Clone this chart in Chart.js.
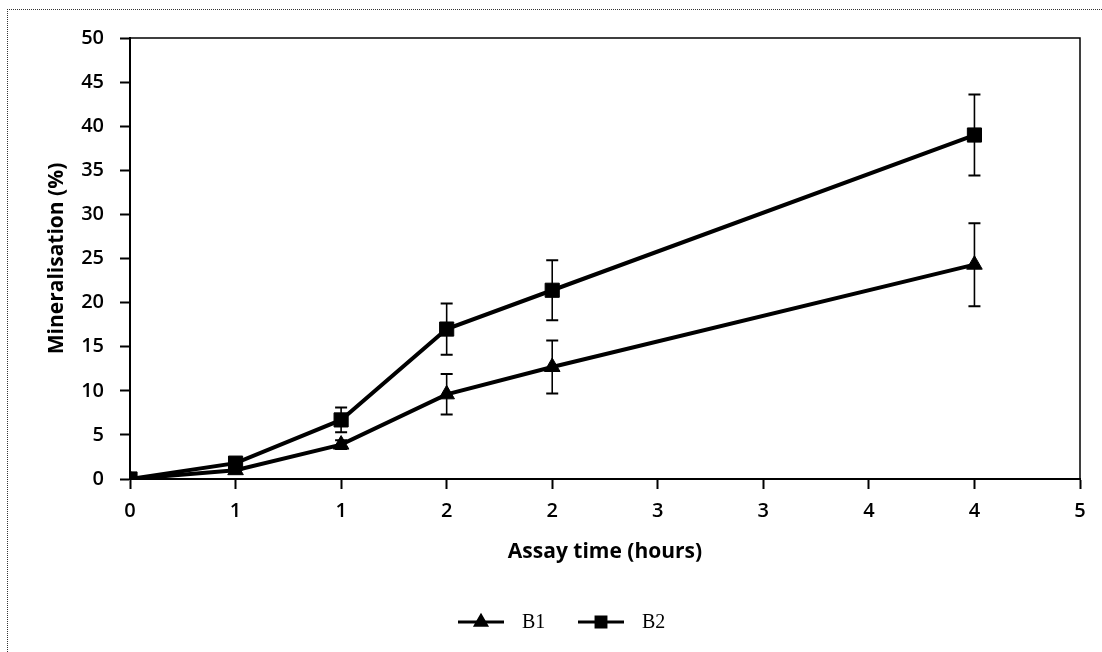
<!DOCTYPE html>
<html>
<head>
<meta charset="utf-8">
<script src="https://cdn.jsdelivr.net/npm/chart.js@4.4.1/dist/chart.umd.min.js"></script>
<style>
  html, body { margin: 0; padding: 0; background: #fff; }
  #wrap { position: relative; width: 1102px; height: 652px; overflow: hidden; }
  #frame { position: absolute; left: 7px; top: 9px; width: 1200px; height: 800px;
           border-left: 1px dotted #333; border-top: 1px dotted #333; }
  canvas { position: absolute; left: 0; top: 0; }
</style>
</head>
<body>
<div id="wrap">
  <div id="frame"></div>
  <canvas id="chart" width="1102" height="652"></canvas>
</div>
<script>
// ─── DATA ─────────────────────────────────────────────────
const hours = [0, 0.5, 1, 1.5, 2, 4];
const b1 = [0, 1.0, 3.9, 9.6, 12.7, 24.3];
const b1Err = [0, 0.3, 0.5, 2.3, 3.0, 4.7];
const b2 = [0, 1.8, 6.7, 17.0, 21.4, 39.0];
const b2Err = [0, 0.3, 1.4, 2.9, 3.4, 4.6];
const xTickLabels = ['0', '1', '1', '2', '2', '3', '3', '4', '4', '5'];
const seriesNames = ['B1', 'B2'];

const tickFont = { family: 'Open Sans', size: 20, weight: '600' };
const titleFont = { family: 'Open Sans', size: 21, weight: 'bold' };

const toPoints = (vals, errs) => vals.map((v, i) => ({ x: hours[i], y: v, err: errs[i] }));

// error bars + box + legend
const extras = {
    id: 'extras',
    beforeDatasetsDraw(chart) {
        const { ctx, scales: { x, y } } = chart;
        ctx.save();
        ctx.strokeStyle = '#000';
        chart.data.datasets.forEach(ds => {
            ds.data.forEach(p => {
                if (!p.err) return;
                const px = x.getPixelForValue(p.x);
                const top = y.getPixelForValue(p.y + p.err);
                const bot = y.getPixelForValue(p.y - p.err);
                ctx.lineWidth = 1.6;
                ctx.beginPath();
                ctx.moveTo(px, top); ctx.lineTo(px, bot);
                ctx.stroke();
                ctx.lineWidth = 2;
                ctx.beginPath();
                ctx.moveTo(px - 6, top); ctx.lineTo(px + 6, top);
                ctx.moveTo(px - 6, bot); ctx.lineTo(px + 6, bot);
                ctx.stroke();
            });
        });
        ctx.restore();
    },
    afterDraw(chart) {
        const { ctx, chartArea: a } = chart;
        ctx.save();
        ctx.strokeStyle = '#000';
        ctx.lineWidth = 1.5;
        ctx.beginPath();
        ctx.moveTo(a.left, a.top); ctx.lineTo(a.right, a.top); ctx.lineTo(a.right, a.bottom);
        ctx.stroke();

        // legend
        const items = [{ lx: 458, tx: 522 }, { lx: 578, tx: 642 }];
        const ly = 622;
        ctx.font = '20px "Liberation Serif"';
        ctx.textBaseline = 'middle';
        ctx.fillStyle = '#000';
        chart.data.datasets.forEach((ds, i) => {
            const it = items[i];
            ctx.lineWidth = 3;
            ctx.beginPath();
            ctx.moveTo(it.lx, ly); ctx.lineTo(it.lx + 46, ly);
            ctx.stroke();
            Chart.helpers.drawPoint(ctx, { pointStyle: ds.pointStyle, radius: ds.pointRadius * 0.7, borderWidth: 1 }, it.lx + 23, ly);
            ctx.fillText(seriesNames[i], it.tx, ly + 1);
        });
        ctx.restore();
    }
};

new Chart(document.getElementById('chart'), {
    type: 'line',
    data: {
        datasets: [
            { label: seriesNames[0], data: toPoints(b1, b1Err), borderColor: '#000', backgroundColor: '#000',
              borderWidth: 4, pointStyle: 'triangle', pointRadius: 9, pointBorderWidth: 1, tension: 0 },
            { label: seriesNames[1], data: toPoints(b2, b2Err), borderColor: '#000', backgroundColor: '#000',
              borderWidth: 4, pointStyle: 'rect', pointRadius: 10, pointBorderWidth: 1, tension: 0 },
        ]
    },
    options: {
        responsive: false, animation: false,
        layout: { padding: { left: 0, top: 38, right: 22, bottom: 73 } },
        plugins: { legend: { display: false }, tooltip: { enabled: false } },
        scales: {
            x: {
                type: 'linear', min: 0, max: 4.5,
                afterFit: s => { s.height = 100; },
                grid: { drawOnChartArea: false, drawTicks: true, tickLength: 10, tickColor: '#000', tickWidth: 2 },
                border: { color: '#000', width: 2 },
                ticks: { stepSize: 0.5, color: '#000', font: tickFont, padding: 10, maxRotation: 0,
                         callback: (v, i) => xTickLabels[i] },
                title: { display: true, text: 'Assay time (hours)', color: '#000', font: titleFont, padding: { top: 0, bottom: 14 } }
            },
            y: {
                min: 0, max: 50,
                afterFit: s => { s.width = 130; },
                grid: { drawOnChartArea: false, drawTicks: true, tickLength: 10, tickColor: '#000', tickWidth: 2 },
                border: { color: '#000', width: 2 },
                ticks: { stepSize: 5, color: '#000', font: tickFont, padding: 16 },
                title: { display: true, text: 'Mineralisation (%)', color: '#000', font: titleFont, padding: { top: 44, bottom: 0 } }
            }
        }
    },
    plugins: [extras]
});
</script>
</body>
</html>
